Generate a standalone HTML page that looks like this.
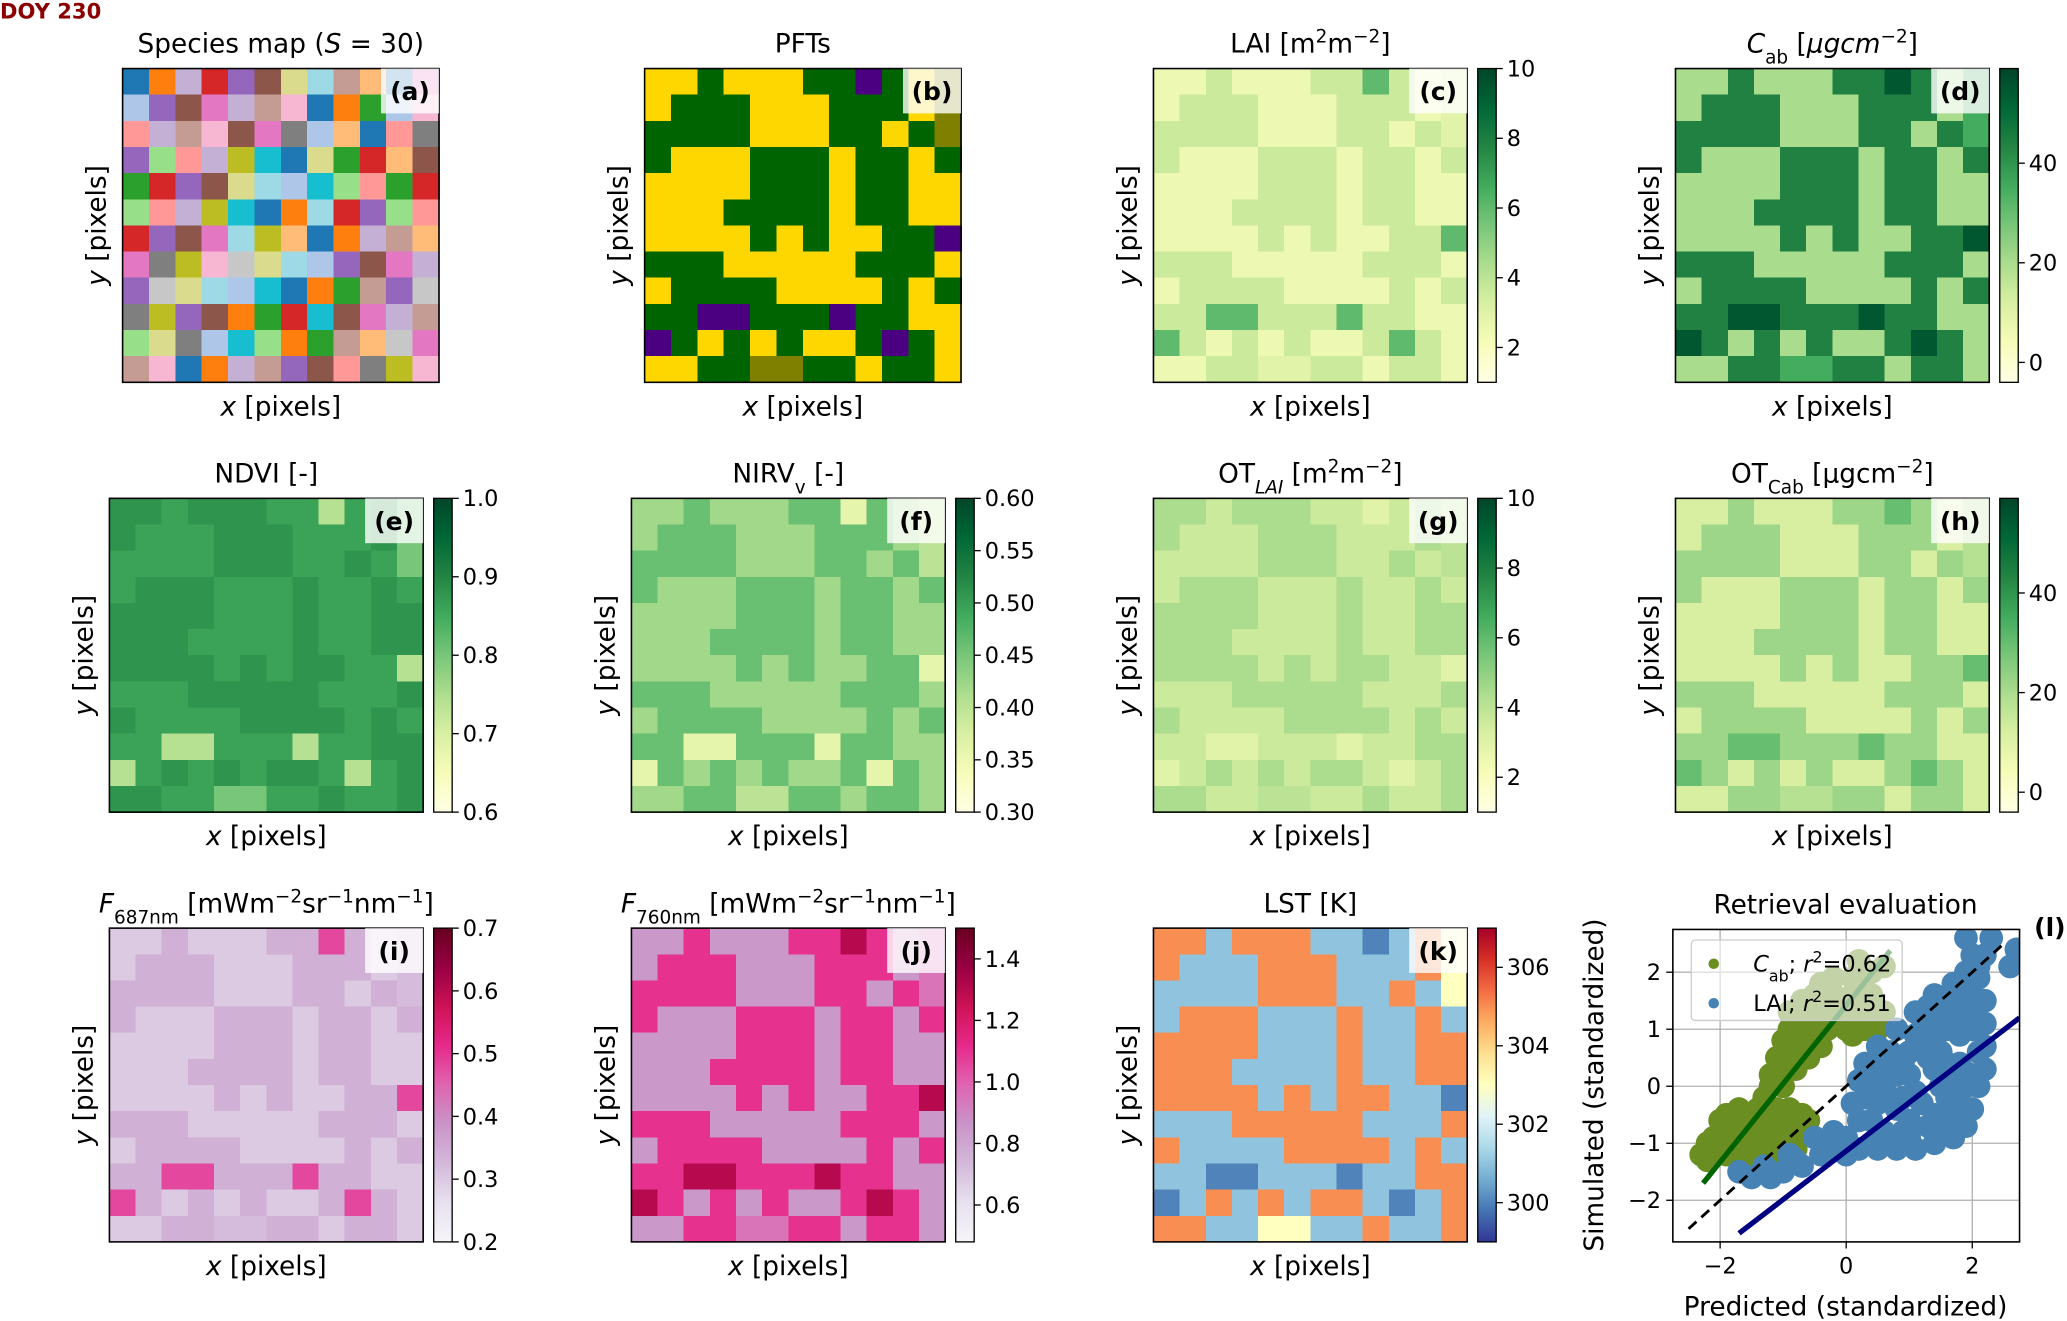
<!DOCTYPE html>
<html><head><meta charset="utf-8"><style>
html,body{margin:0;padding:0;background:#fff;}
svg{display:block;font-family:"DejaVu Sans","Liberation Sans",sans-serif;}
</style></head><body>
<svg id="fig" width="2067" height="1321" viewBox="0 0 1568 1002" preserveAspectRatio="none" xmlns="http://www.w3.org/2000/svg">
<text x="0" y="14" font-size="16" font-weight="bold" fill="#8b0000">DOY 230</text>
</svg>
<script>
const zoneGrid = [
[0,0,1,0,0,0,1,1,3,1,0,2],
[0,1,1,1,0,0,0,1,1,1,0,2],
[1,1,1,1,0,0,0,1,1,0,1,2],
[1,0,0,0,1,1,1,0,1,1,0,1],
[0,0,0,0,1,1,1,0,1,1,0,0],
[0,0,0,1,1,1,1,0,1,1,0,0],
[0,0,0,0,1,0,1,0,0,1,1,3],
[1,1,1,0,0,0,0,0,1,1,1,0],
[0,1,1,1,1,0,0,0,0,1,0,1],
[1,1,3,3,1,1,1,3,1,1,0,0],
[3,1,0,1,0,1,0,0,1,3,1,0],
[0,0,1,1,2,2,1,1,0,1,1,0]];
const laiZone=[2.5,3.6,3.0,6.0];
const cabZone=[20,44,35,55];
const ndviZone=[0.88,0.86,0.80,0.74];
const nirvZone=[0.42,0.46,0.40,0.36];
const otLaiZone=[4.4,3.6,4.0,3.0];
const otCabZone=[12,22,18,30];
const f687Zone=[0.30,0.34,0.32,0.48];
const f760Zone=[0.85,1.10,0.95,1.30];
const lstZone=[305,301,303,300];
const ylgnTicks=[10,8,6,4,2];
const cabTicks=[40,20,0];
const ndviTicks=[1.0,0.9,0.8,0.7,0.6];
const nirvTicks=[0.60,0.55,0.50,0.45,0.40,0.35,0.30];
const f687Ticks=[0.7,0.6,0.5,0.4,0.3,0.2];
const f760Ticks=[1.4,1.2,1.0,0.8,0.6];
const lstTicks=[306,304,302,300];
// scatter data
const cabPts=[[-1.2,0.2],[-1.1,0.5],[-1.0,0.8],[-0.9,1.0],[-0.7,1.1],[-0.5,1.0],[-0.3,1.0],[0,1.0],[0.3,1.0],[0.5,1.0],[-1.0,0.3],[-0.8,0.6],[-0.6,0.8],[-0.4,0.7],[-0.8,0.3],[-1.1,0.1],[-0.9,1.3],[-0.6,1.3],[-0.3,1.3],[0,1.3],[0.3,1.3],[0.6,1.3],[-0.5,1.6],[-0.2,1.6],[0.1,1.6],[0.4,1.6],[-0.2,1.9],[0.1,1.9],[0.4,2.0],[0.6,2.1],[-1.2,0.0],[-0.7,0.9],[0.1,0.9],[-1.3,-0.2],
[-0.9,0.5],[-0.6,0.5],[-0.4,1.1],[-0.1,1.1],[0.2,1.2],[-0.7,1.5],[-0.4,1.8],[0.2,2.2],[-1.0,0.0],
[-2.3,-1.2],[-2.1,-1.2],[-1.9,-1.2],[-1.7,-1.3],[-1.5,-1.2],[-1.3,-1.1],[-2.1,-0.9],[-1.9,-0.8],[-1.7,-0.7],[-1.5,-0.6],[-1.3,-0.5],[-1.1,-0.4],[-0.9,-0.4],[-0.7,-0.5],[-0.6,-0.6],[-1.6,-1.0],[-1.3,-0.8],[-1.0,-0.7],[-0.8,-0.8],[-2.0,-0.6],[-1.7,-0.4],[-1.4,-0.4],[-1.0,-1.0],[-1.2,-1.3],[-2.2,-1.0],[-1.8,-1.0],
[-1.8,-0.9],[-1.5,-0.9],[-1.2,-0.9],[-0.9,-0.6],[-2.2,-1.3],[-1.4,-1.3],[-0.8,-1.1],[-1.9,-0.5]];
const laiPts=[[-1.7,-1.5],[-1.5,-1.6],[-1.2,-1.6],[-1.0,-1.5],[-0.7,-1.4],[-0.4,-1.2],[-0.1,-1.1],[0.2,-1.1],[0.5,-1.1],[0.8,-1.1],[1.1,-1.1],[1.4,-1.0],[1.7,-0.9],[1.9,-0.7],[2.0,-0.4],[2.1,0],[2.2,0.3],[2.2,0.7],[2.2,1.1],[2.2,1.5],[2.1,1.9],[2.2,2.3],[2.3,2.6],[1.9,2.6],[2.0,2.3],[1.9,2.0],[1.7,1.8],[1.4,1.6],[1.1,1.3],[0.8,1.0],[0.5,0.7],[0.3,0.4],[0.2,0.1],[0.1,-0.3],[-0.5,-0.9],[-0.9,-1.2],[0.4,-0.6],[0.8,-0.4],[1.2,-0.3],[1.6,-0.2],[0.6,0.0],[1.0,0.2],[1.4,0.3],[1.8,0.4],[1.0,0.6],[1.4,0.8],[1.8,0.9],[1.5,1.2],[1.8,1.3],[0.3,-0.2],[0.9,-0.8],[1.3,-0.7],[-0.2,-0.8],[2.6,2.1],[2.7,2.4],[1.7,-0.5],[0.6,0.4],[1.9,1.6],[1.2,1.0],[0.7,-0.2],[1.5,0.0],[2.0,1.0],
[0.3,0.2],[0.5,-0.3],[0.7,0.6],[0.9,0.4],[1.1,-0.1],[1.3,0.5],[1.5,0.6],[1.7,0.1],[1.9,0.0],[1.6,1.0],[2.0,1.3],[1.3,1.1],[1.1,0.9],[0.9,-0.2],[0.2,-0.6],[0,-0.9],[-0.3,-1.0],[0.6,-0.8],[1.0,-0.6],[1.4,-0.5],[1.8,-0.3],[2.1,0.6],[2.0,1.8],[1.6,1.5],[1.3,1.4],[2.1,2.1],[0.4,0.1],[0.8,0.2],[1.2,0.7],[1.6,0.4],[2.0,0.2],[1.0,-0.9],[1.6,-0.8],[-1.3,-1.4],[-0.8,-1.3],[0.0,-1.2],[0.5,-0.9]];
const cabFit=[[-2.27,-1.7],[0.7,2.38]];
const laiFit=[[-1.7,-2.58],[2.75,1.2]];
const oneToOne=[[-2.5,-2.5],[2.5,2.5]];
const scatTicks=[-2,0,2];
const scatYTicks=[2,1,0,-1,-2];

const NS="http://www.w3.org/2000/svg";
const svg=document.getElementById('fig');
function mk(tag,attrs,parent){const e=document.createElementNS(NS,tag);for(const k in attrs)e.setAttribute(k,attrs[k]);(parent||svg).appendChild(e);return e;}
function txt(x,y,s,size,anchor,parent,extra){const t=mk('text',Object.assign({x:x,y:y,'font-size':size,'text-anchor':anchor||'middle',fill:'#000'},extra||{}),parent);t.innerHTML=s;return t;}
const YlGn=['#ffffe5','#f7fcb9','#d9f0a3','#addd8e','#78c679','#41ab5d','#238443','#006837','#004529'];
const PuRd=['#f7f4f9','#e7e1ef','#d4b9da','#c994c7','#df65b0','#e7298a','#ce1256','#980043','#67001f'];
const RdYlBu=['#313695','#4575b4','#74add1','#abd9e9','#e0f3f8','#ffffbf','#fee090','#fdae61','#f46d43','#d73027','#a50026'];
const tab20=['#1f77b4','#aec7e8','#ff7f0e','#ffbb78','#2ca02c','#98df8a','#d62728','#ff9896','#9467bd','#c5b0d5','#8c564b','#c49c94','#e377c2','#f7b6d2','#7f7f7f','#c7c7c7','#bcbd22','#dbdb8d','#17becf','#9edae5'];
function hx(h){return [parseInt(h.slice(1,3),16),parseInt(h.slice(3,5),16),parseInt(h.slice(5,7),16)];}
function cmap(stops,t){t=Math.max(0,Math.min(1,t));const p=t*(stops.length-1);const i=Math.min(stops.length-2,Math.floor(p));const f=p-i;const a=hx(stops[i]),b=hx(stops[i+1]);return 'rgb('+a.map((v,k)=>Math.round(v+(b[k]-v)*f)).join(',')+')';}
let gid=0;
function panel(o){
  const g=mk('g',{});
  
  
  const x0=o.x,y0=o.y,W=o.w,H=238,n=12,cw=W/n,ch=H/n;
  for(let r=0;r<n;r++)for(let c=0;c<n;c++){
    const z=zoneGrid[r][c];let col;
    if(o.key==='a')col=tab20[(z*5+r+2*c)%20];
    else if(o.key==='b')col=['#ffd700','#006400','#808000','#4b0082'][z];
    else col=cmap(o.cm,(o.vals[z]-o.vmin)/(o.vmax-o.vmin));
    const rc=mk('rect',{x:x0+c*cw,y:y0+r*ch,width:cw+0.6,height:ch+0.6,fill:col,'shape-rendering':'crispEdges'},g);
    
    
  }
  const fr=mk('rect',{x:x0,y:y0,width:W,height:H,fill:'none',stroke:'#000','stroke-width':1.2},g);
  
  
  const lb=mk('rect',{x:x0+W-44,y:y0,width:44,height:34,fill:'#fff','fill-opacity':0.8},g);
  
  
  const lt=txt(x0+W-22,y0+24,'('+o.key+')',19,'middle',g,{'font-weight':'bold'});
  
  
  const tt=txt(x0+W/2,y0-12,o.title,20,'middle',g);
  
  
  const xl=txt(x0+W/2,y0+H+25,'<tspan font-style="italic">x</tspan> [pixels]',20,'middle',g);
  
  
  const yl=txt(0,0,'<tspan font-style="italic">y</tspan> [pixels]',20,'middle',g,{transform:'translate('+(x0-13)+','+(y0+H/2)+') rotate(-90)'});
  
  
  if(o.cm){
    const id='grad'+(gid++);
    const d=mk('defs',{},g);const lg=mk('linearGradient',{id:id,x1:0,y1:1,x2:0,y2:0},d);
    o.cm.forEach((c,i)=>mk('stop',{offset:i/(o.cm.length-1),'stop-color':c},lg));
    const bx=x0+W+8;
    const cb=mk('rect',{x:bx,y:y0,width:14,height:H,fill:'url(#'+id+')',stroke:'#000','stroke-width':1},g);
    
    
    o.ticks.forEach(v=>{
      const ty=y0+H-(v-o.vmin)/(o.vmax-o.vmin)*H;
      mk('line',{x1:bx+14,x2:bx+19,y1:ty,y2:ty,stroke:'#000'},g);
      const t=txt(bx+22,ty+6,o.fmt?o.fmt(v):String(v),17,'start',g);
      
      
    });
  }
}
const f1=v=>v.toFixed(1),f2=v=>v.toFixed(2);
panel({key:'a',x:93,y:52,w:240,title:'Species map (<tspan font-style="italic">S</tspan> = 30)'});
panel({key:'b',x:489,y:52,w:240,title:'PFTs'});
panel({key:'c',x:875,y:52,w:238,title:'LAI [m<tspan baseline-shift="super" font-size="14">2</tspan>m<tspan baseline-shift="super" font-size="14">−2</tspan>]',cm:YlGn,vals:laiZone,vmin:1,vmax:10,ticks:ylgnTicks});
panel({key:'d',x:1271,y:52,w:238,title:'<tspan font-style="italic">C</tspan><tspan baseline-shift="sub" font-size="14">ab</tspan> [<tspan font-style="italic">μgcm</tspan><tspan baseline-shift="super" font-size="14">−2</tspan>]',cm:YlGn,vals:cabZone,vmin:-4,vmax:59,ticks:cabTicks});
panel({key:'e',x:83,y:378,w:238,title:'NDVI [-]',cm:YlGn,vals:ndviZone,vmin:0.6,vmax:1.0,ticks:ndviTicks,fmt:f1});
panel({key:'f',x:479,y:378,w:238,title:'NIRV<tspan baseline-shift="sub" font-size="14">v</tspan> [-]',cm:YlGn,vals:nirvZone,vmin:0.3,vmax:0.6,ticks:nirvTicks,fmt:f2});
panel({key:'g',x:875,y:378,w:238,title:'OT<tspan baseline-shift="sub" font-size="14" font-style="italic">LAI</tspan> [m<tspan baseline-shift="super" font-size="14">2</tspan>m<tspan baseline-shift="super" font-size="14">−2</tspan>]',cm:YlGn,vals:otLaiZone,vmin:1,vmax:10,ticks:ylgnTicks});
panel({key:'h',x:1271,y:378,w:238,title:'OT<tspan baseline-shift="sub" font-size="14">Cab</tspan> [μgcm<tspan baseline-shift="super" font-size="14">−2</tspan>]',cm:YlGn,vals:otCabZone,vmin:-4,vmax:59,ticks:cabTicks});
panel({key:'i',x:83,y:704,w:238,title:'<tspan font-style="italic">F</tspan><tspan baseline-shift="sub" font-size="14">687nm</tspan> [mWm<tspan baseline-shift="super" font-size="14">−2</tspan>sr<tspan baseline-shift="super" font-size="14">−1</tspan>nm<tspan baseline-shift="super" font-size="14">−1</tspan>]',cm:PuRd,vals:f687Zone,vmin:0.2,vmax:0.7,ticks:f687Ticks,fmt:f1});
panel({key:'j',x:479,y:704,w:238,title:'<tspan font-style="italic">F</tspan><tspan baseline-shift="sub" font-size="14">760nm</tspan> [mWm<tspan baseline-shift="super" font-size="14">−2</tspan>sr<tspan baseline-shift="super" font-size="14">−1</tspan>nm<tspan baseline-shift="super" font-size="14">−1</tspan>]',cm:PuRd,vals:f760Zone,vmin:0.48,vmax:1.5,ticks:f760Ticks,fmt:f1});
panel({key:'k',x:875,y:704,w:238,title:'LST [K]',cm:RdYlBu,vals:lstZone,vmin:299.0,vmax:307.0,ticks:lstTicks});

// scatter panel (l)
(function(){
  const L=1269,R=1532,T=705,B=942,xmin=-2.75,xmax=2.75,ymin=-2.73,ymax=2.75;
  const sx=v=>L+(v-xmin)/(xmax-xmin)*(R-L), sy=v=>B-(v-ymin)/(ymax-ymin)*(B-T);
  const g=mk('g',{});
  
  
  const cp=mk('clipPath',{id:'clipL'},g);mk('rect',{x:L,y:T,width:R-L,height:B-T},cp);
  scatTicks.forEach(v=>{
    const gl=mk('line',{x1:sx(v),x2:sx(v),y1:T,y2:B,stroke:'#b0b0b0','stroke-width':1},g);
    
    
    mk('line',{x1:sx(v),x2:sx(v),y1:B,y2:B+5,stroke:'#000'},g);
    const t=txt(sx(v),B+24,String(v).replace('-','−'),17,'middle',g);
    
    
  });
  scatYTicks.forEach(v=>{
    const gl=mk('line',{x1:L,x2:R,y1:sy(v),y2:sy(v),stroke:'#b0b0b0','stroke-width':1},g);
    
    
    mk('line',{x1:L-5,x2:L,y1:sy(v),y2:sy(v),stroke:'#000'},g);
    const t=txt(L-9,sy(v)+6,String(v).replace('-','−'),17,'end',g);
    
    
  });
  const pg=mk('g',{'clip-path':'url(#clipL)'},g);
  cabPts.forEach(p=>{const c=mk('circle',{cx:sx(p[0]),cy:sy(p[1]),r:9,fill:'#6b8e23'},pg);
    
    });
  laiPts.forEach(p=>{const c=mk('circle',{cx:sx(p[0]),cy:sy(p[1]),r:9,fill:'#4682b4'},pg);
    
    });
  const d1=mk('line',{x1:sx(oneToOne[0][0]),y1:sy(oneToOne[0][1]),x2:sx(oneToOne[1][0]),y2:sy(oneToOne[1][1]),stroke:'#000','stroke-width':2.2,'stroke-dasharray':'8,5'},pg);
  
  
  const l1=mk('line',{x1:sx(cabFit[0][0]),y1:sy(cabFit[0][1]),x2:sx(cabFit[1][0]),y2:sy(cabFit[1][1]),stroke:'#006400','stroke-width':4},pg);
  
  
  const l2=mk('line',{x1:sx(laiFit[0][0]),y1:sy(laiFit[0][1]),x2:sx(laiFit[1][0]),y2:sy(laiFit[1][1]),stroke:'#000080','stroke-width':4},pg);
  
  
  const fr=mk('rect',{x:L,y:T,width:R-L,height:B-T,fill:'none',stroke:'#000','stroke-width':1.2},g);
  
  
  const lg=mk('g',{},g);
  
  
  mk('rect',{x:1283,y:713,width:160,height:61,rx:3,fill:'#fff','fill-opacity':0.6,stroke:'#ccc'},lg);
  mk('circle',{cx:1300,cy:731,r:4,fill:'#6b8e23'},lg);
  mk('circle',{cx:1300,cy:761,r:4,fill:'#4682b4'},lg);
  const e1=txt(1330,737,'<tspan font-style="italic">C</tspan><tspan baseline-shift="sub" font-size="12">ab</tspan>; <tspan font-style="italic">r</tspan><tspan baseline-shift="super" font-size="12">2</tspan>=0.62',17,'start',lg);
  
  
  const e2=txt(1330,767,'LAI; <tspan font-style="italic">r</tspan><tspan baseline-shift="super" font-size="12">2</tspan>=0.51',17,'start',lg);
  
  
  const tt=txt(1400,693,'Retrieval evaluation',20,'middle',g);
  
  
  const xl=txt(1400,998,'Predicted (standardized)',20,'middle',g);
  
  
  const yl=txt(0,0,'Simulated (standardized)',20,'middle',g,{transform:'translate(1216,823) rotate(-90)'});
  
  
  const pl=txt(1555,710,'(l)',19,'middle',g,{'font-weight':'bold'});
  
  
})();
</script>
</body></html>
